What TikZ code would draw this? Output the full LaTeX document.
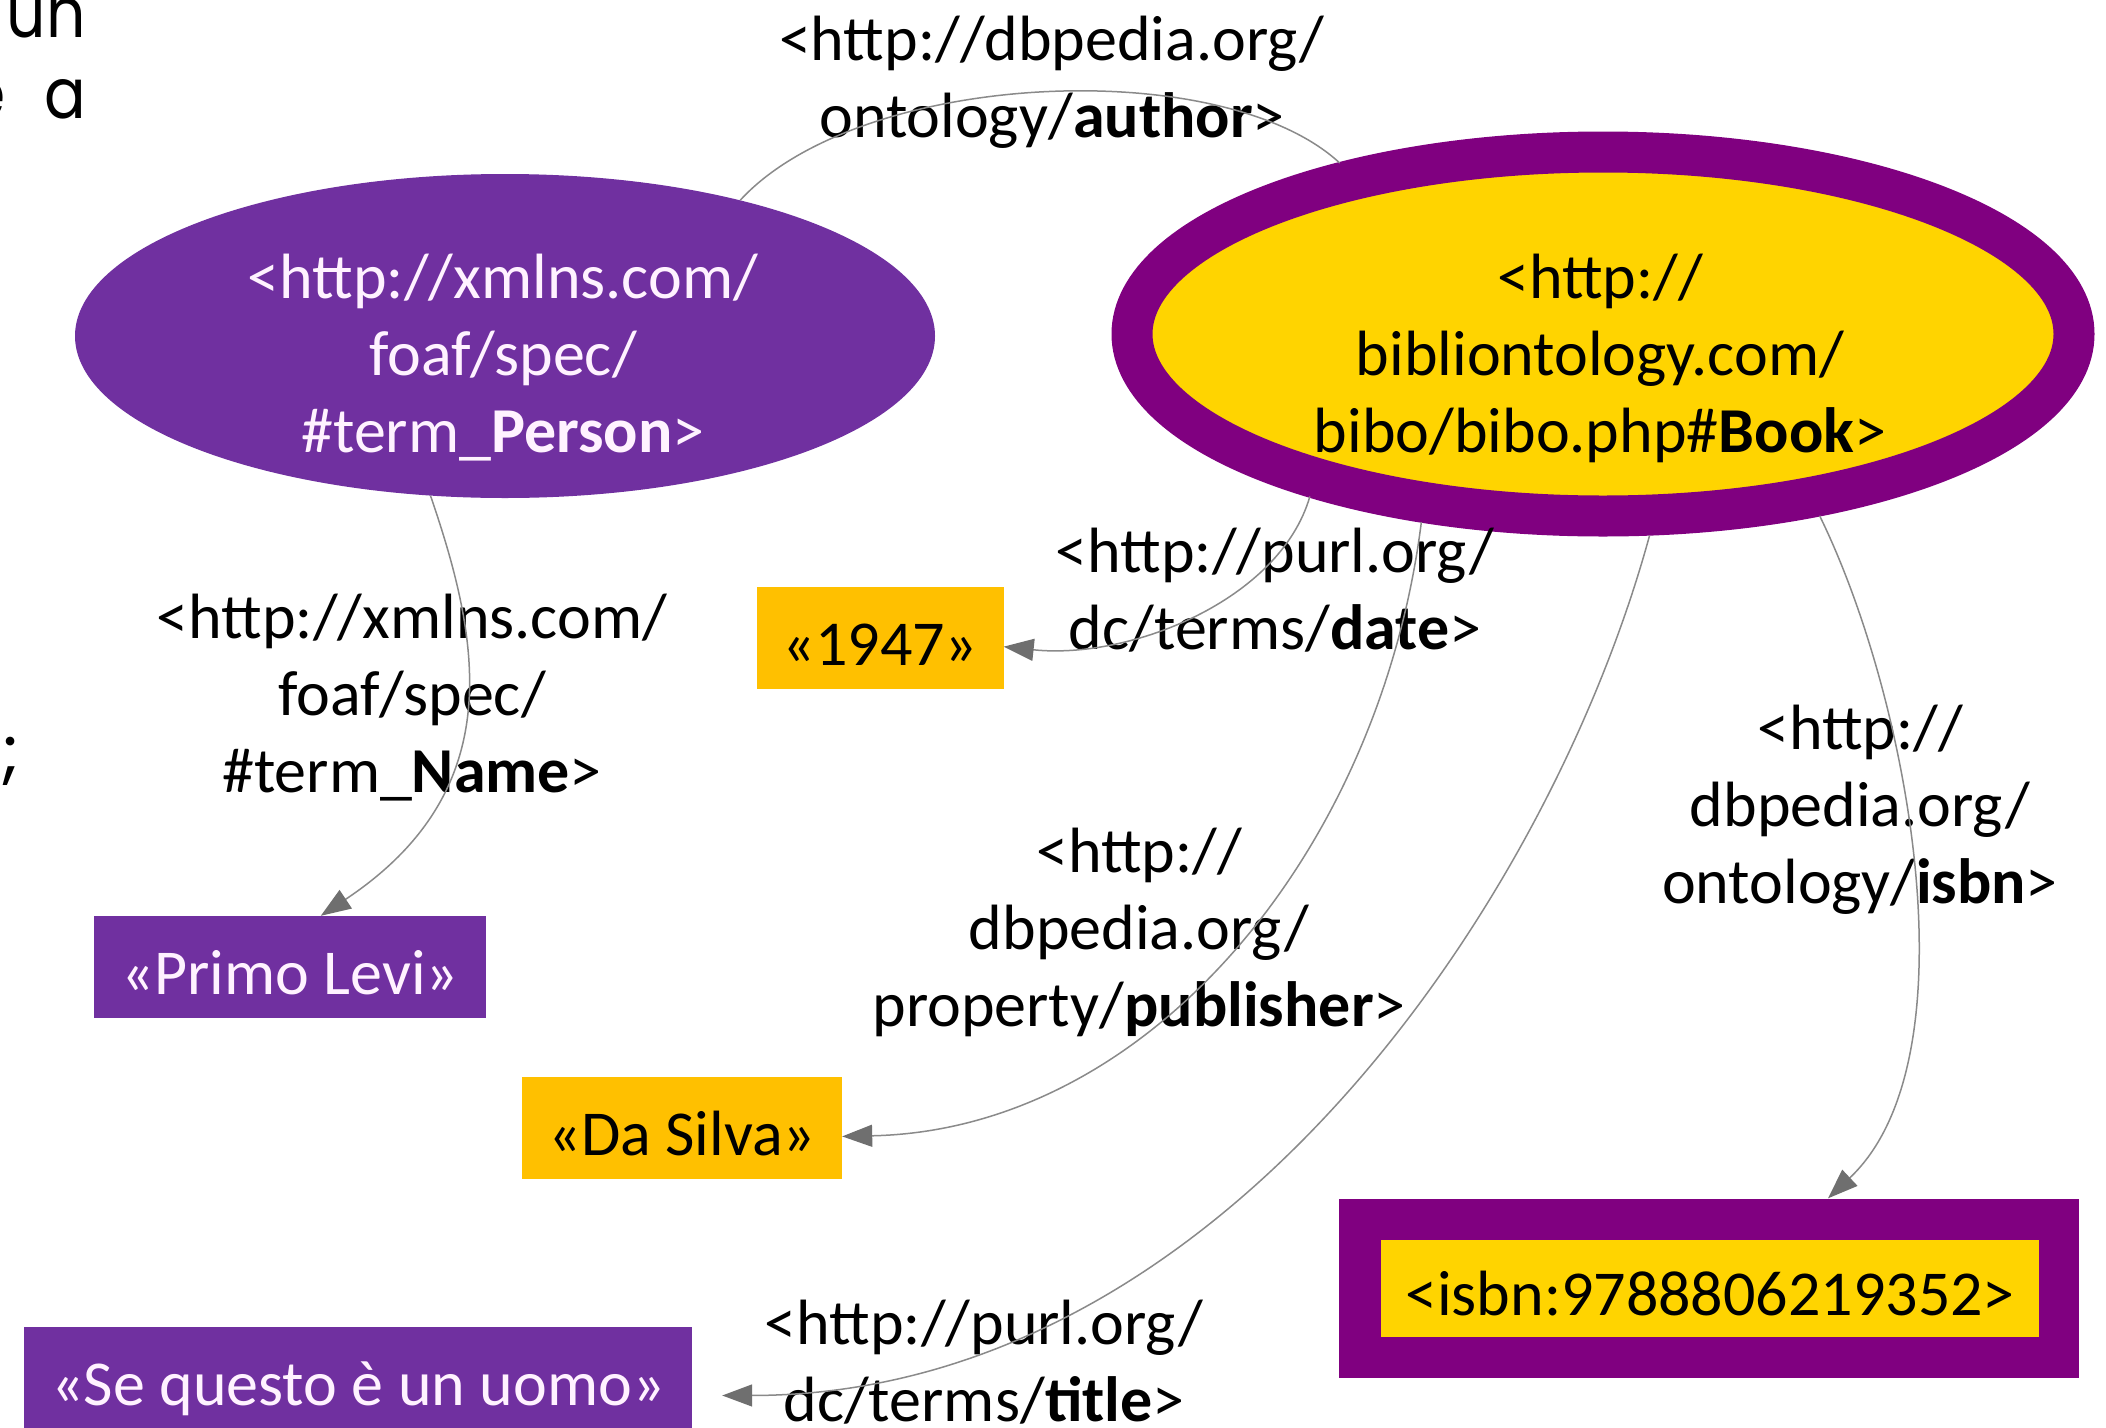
\documentclass[tikz,border=0pt]{standalone}
\usepackage{fontspec}
\setmainfont{Carlito}
\newfontfamily\popfont{Poppins}
\usetikzlibrary{arrows.meta,shapes.geometric}
\definecolor{ppurple}{HTML}{7030A0}
\definecolor{dpurple}{HTML}{800080}
\definecolor{gold}{HTML}{FFC000}
\definecolor{yel}{HTML}{FFD400}
\definecolor{conn}{HTML}{8A8A8A}
\definecolor{tipc}{HTML}{6F6F6F}
\definecolor{pinkwhite}{HTML}{FFF2FF}
\begin{document}
\begin{tikzpicture}[x=1pt,y=-1pt,
  txt/.style={font=\fontsize{64}{77}\selectfont, align=center, inner sep=0pt},
  box/.style={rectangle, inner sep=0pt, font=\fontsize{64}{77}\selectfont, text height=60pt, text depth=6pt},
  frag/.style={font={\popfont\fontsize{70}{80}\selectfont}, inner sep=0pt},
  edge/.style={draw=conn, line width=1.5pt, -{Triangle[length=30pt,width=22pt,color=tipc]}},
  plainedge/.style={draw=conn, line width=1.5pt},
]
\useasboundingbox (0,0) rectangle (2106,1427);
\fill[white] (0,0) rectangle (2106,1427);

% left fragments
\node[frag, anchor=base east] (frag1) at (86,37) {\scalebox{0.88}[1]{un}};
\node[frag, anchor=base east] (frag2) at (86,118) {\scalebox{0.88}[1]{e\hspace{0.62em}a}};
\node[frag, anchor=base west] (frag3) at (1,775) {;};

% ellipses
\node[ellipse, fill=ppurple, minimum width=860pt, minimum height=324pt, inner sep=0pt] (person) at (505,336) {};
\node[txt, text=pinkwhite] (persontxt) at (503,358) {<http://xmlns.com/\\foaf/spec/\\\#term\_\textbf{Person}>};

\node[ellipse, draw=dpurple, line width=41pt, fill=yel, minimum width=942pt, minimum height=364pt, inner sep=0pt] (book) at (1603,334) {};
\node[txt] (booktxt) at (1600,358) {<http://\\bibliontology.com/\\bibo/bibo.php\#\textbf{Book}>};

% labels
\node[txt] (lauthor) at (1052,82) {<http://dbpedia.org/\\ontology/\textbf{author}>};
\node[txt] (lname) at (412,698) {<http://xmlns.com/\\foaf/spec/\\\#term\_\textbf{Name}>};
\node[txt] (ldate) at (1275,590) {<http://purl.org/\\dc/terms/\textbf{date}>};
\node[txt] (lpub) at (1139,932) {<http://\\dbpedia.org/\\property/\textbf{publisher}>};
\node[txt] (lisbn) at (1860,810) {<http://\\dbpedia.org/\\ontology/\textbf{isbn}>};
\node[txt] (ltitle) at (984,1362) {<http://purl.org/\\dc/terms/\textbf{title}>};

% boxes
\node[box, fill=gold, minimum width=247pt, minimum height=102pt] (y1947) at (880,638) {«1947»};
\node[box, fill=ppurple, text=pinkwhite, minimum width=392pt, minimum height=102pt] (primo) at (290,967) {«Primo Levi»};
\node[box, fill=gold, minimum width=320pt, minimum height=102pt] (dasilva) at (682,1128) {«Da Silva»};
\node[box, fill=ppurple, text=pinkwhite, minimum width=668pt, minimum height=102pt] (sequesto) at (358,1378) {«Se questo è un uomo»};
\node[rectangle, inner sep=0pt, fill=dpurple, minimum width=740pt, minimum height=179pt] (isbnout) at (1709,1288) {};
\node[box, fill=yel, minimum width=658pt, minimum height=97pt] (isbn) at (1710,1288) {<isbn:9788806219352>};

% connectors
\draw[plainedge] (person.30.5) .. controls (860,70) and (1222,54) .. (book.147.5);
\draw[edge] (person.245) .. controls (480,640) and (510,790) .. (primo.59.5);
\draw[edge] (book.209) .. controls (1280,600) and (1130,660) .. (y1947.-4.6);
\draw[edge] (book.226.5) .. controls (1380,850) and (1150,1130) .. (dasilva.-3.9);
\draw[edge, shorten >=30pt] (book.283.7) .. controls (1550,900) and (1220,1395) .. (sequesto.-3.4);
\draw[edge] (book.320) .. controls (1910,700) and (1975,1060) .. (isbnout.37.9);
\end{tikzpicture}
\end{document}
